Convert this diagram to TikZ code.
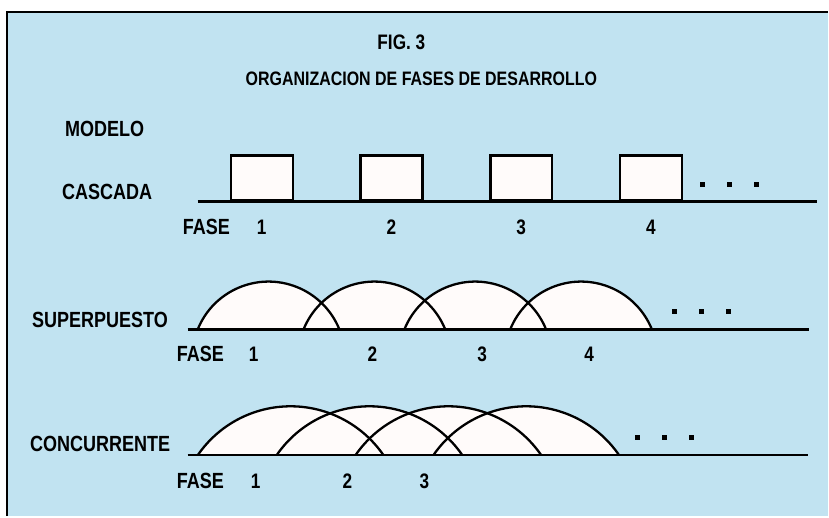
\documentclass[tikz,border=0pt]{standalone}
\usepackage{fontspec}
\setmainfont{Liberation Sans}[FakeStretch=0.82]
\usetikzlibrary{positioning}
\definecolor{bluebg}{RGB}{193,227,241}
\definecolor{phasefill}{RGB}{255,251,250}

\begin{document}
\begin{tikzpicture}[x=1pt,y=1pt,
    lbl/.style={inner sep=0pt,anchor=base west,font=\fontsize{22}{23}\selectfont\bfseries},
    num/.style={inner sep=0pt,anchor=base,font=\fontsize{21}{22}\selectfont\bfseries},
    head/.style={inner sep=0pt,anchor=base,font=\fontsize{19.5}{21}\selectfont\bfseries},
    baseline/.style={line width=2.4pt},
    phasebox/.style={draw,fill=phasefill,line width=2.3pt,minimum width=62,minimum height=45,inner sep=0pt,anchor=south west},
    overlap/.style={line width=2.3pt},
    dot/.style={fill=black,inner sep=0pt,minimum size=5}]

    % sheet
    \fill[white] (0,0) rectangle (829,-517);
    \fill[bluebg] (7,-12) rectangle (829,-517);
    \draw[line width=2.6pt] (7,-517) -- (7,-12) -- (829,-12);

    % titles
    \node[head,font=\fontsize{21}{22}\selectfont\bfseries] (fig) at (402,-50) {FIG. 3};
    \node[head] (title) at (422,-86) {ORGANIZACION DE FASES DE DESARROLLO};
    \node[lbl] (modelo) at (65,-137) {MODELO};

    % cascada
    \node[lbl] (cascada) at (62,-200) {CASCADA};
    \draw[baseline] (198,-202) -- (818,-202);
    \foreach \x [count=\i] in {230,360,490,620}
        \node[phasebox] (box\i) at (\x,-202) {};
    \node[lbl] (faseA) at (183,-235) {FASE};
    \foreach \x [count=\i] in {262,392,522,652}
        \node[num] (numA\i) at (\x,-235) {\i};
    \foreach \x [count=\i] in {704,731,758}
        \node[dot] (dotA\i) at (\x,-185) {};

    % superpuesto
    \node[lbl] (superpuesto) at (32,-328) {SUPERPUESTO};
    \foreach \s in {198,304,405,511}
        \fill[phasefill] (\s,-330) arc[start angle=158.1,end angle=21.9,radius=76.5] -- cycle;
    \foreach \s in {198,304,405,511}
        \draw[overlap] (\s,-330) arc[start angle=158.1,end angle=21.9,radius=76.5];
    \draw[baseline] (188,-330) -- (810,-330);
    \node[lbl] (faseB) at (177,-362) {FASE};
    \foreach \x [count=\i] in {254,373,483,590}
        \node[num] (numB\i) at (\x,-362) {\i};
    \foreach \x [count=\i] in {676,703,730}
        \node[dot] (dotB\i) at (\x,-312) {};

    % concurrente
    \node[lbl] (concurrente) at (30,-452) {CONCURRENTE};
    \foreach \s in {198,277,356,434}
        \fill[phasefill] (\s,-456) arc[start angle=145.6,end angle=34.4,radius=112.8] -- cycle;
    \foreach \s in {198,277,356,434}
        \draw[overlap] (\s,-456) arc[start angle=145.6,end angle=34.4,radius=112.8];
    \draw[baseline] (188,-456) -- (809,-456);
    \node[lbl] (faseC) at (177,-489) {FASE};
    \foreach \x [count=\i] in {256,348,425}
        \node[num] (numC\i) at (\x,-489) {\i};
    \foreach \x [count=\i] in {638,666,693}
        \node[dot] (dotC\i) at (\x,-438) {};

\end{tikzpicture}
\end{document}
